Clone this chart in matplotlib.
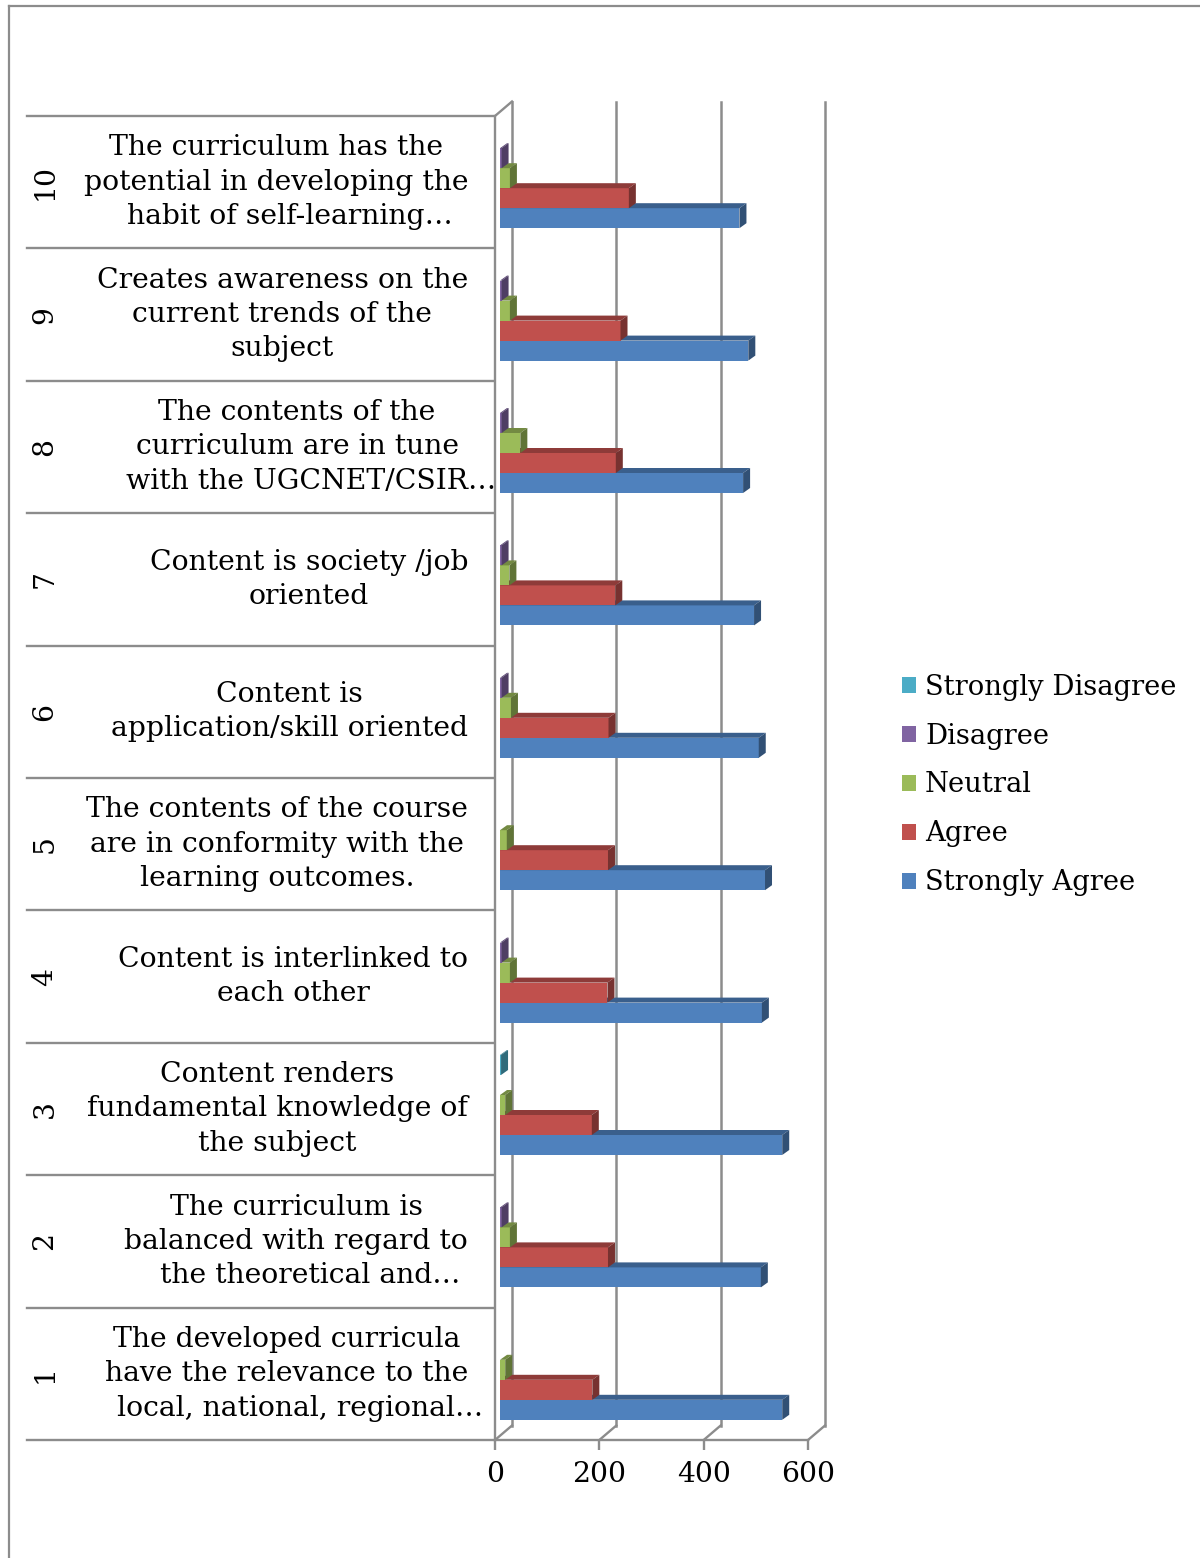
import matplotlib
matplotlib.use('Agg')
import matplotlib.pyplot as plt
from matplotlib.patches import Polygon, Patch
from matplotlib.lines import Line2D
from matplotlib.transforms import blended_transform_factory
import matplotlib.colors as mcolors
import numpy as np

# ---------------- data ----------------
item_numbers = ['1', '2', '3', '4', '5', '6', '7', '8', '9', '10']
item_labels = [
    "The developed curricula\nhave the relevance to the\nlocal, national, regional…",
    "The curriculum is\nbalanced with regard to\nthe theoretical and…",
    "Content renders\nfundamental knowledge of\nthe subject",
    "Content is interlinked to\neach other",
    "The contents of the course\nare in conformity with the\nlearning outcomes.",
    "Content is\napplication/skill oriented",
    "Content is society /job\noriented",
    "The contents of the\ncurriculum are in tune\nwith the UGCNET/CSIR…",
    "Creates awareness on the\ncurrent trends of the\nsubject",
    "The curriculum has the\npotential in developing the\nhabit of self-learning…",
]
series_names = ['Strongly Disagree', 'Disagree', 'Neutral', 'Agree', 'Strongly Agree']
strongly_disagree = [0, 0, 2, 0, 0, 0, 0, 0, 0, 0]
disagree = [0, 3, 0, 3, 0, 3, 3, 3, 3, 3]
neutral = [10, 19, 10, 19, 13, 21, 18, 39, 19, 19]
agree = [177, 207, 176, 206, 207, 208, 221, 222, 231, 247]
strongly_agree = [541, 500, 541, 502, 508, 496, 487, 466, 476, 459]
x_ticks = [0, 200, 400, 600]
series_colors = ['#4BACC6', '#8064A2', '#9BBB59', '#C0504D', '#4F81BD']

# ---------------- style ----------------
W, H, DPI = 1200, 1558, 100
FS = 20.3
LEG_FS = 19.7
GRAY = '#8C8C8C'
plt.rcParams['font.family'] = ['DejaVu Serif']

fig = plt.figure(figsize=(W / DPI, H / DPI), dpi=DPI)
ax_l, ax_r, ax_t, ax_b = 495, 808, 116, 1440
ax = fig.add_axes([ax_l / W, 1 - ax_b / H, (ax_r - ax_l) / W, (ax_b - ax_t) / H])
ax.set_xlim(0, 600)
ax.set_ylim(-0.5, 9.5)
px_x = (ax_r - ax_l) / 600.0
px_y = (ax_b - ax_t) / 10.0
ux = lambda p: p / px_x
uy = lambda p: p / px_y

for s in ['top', 'right']:
    ax.spines[s].set_visible(False)
for s in ['left', 'bottom']:
    ax.spines[s].set_color(GRAY)
    ax.spines[s].set_linewidth(1.7)
ax.set_yticks([])
ax.set_xticks(x_ticks)
ax.set_xticklabels([str(t) for t in x_ticks])
ax.tick_params(axis='x', length=7, width=1.7, color=GRAY, labelsize=FS, pad=8)
ax.patch.set_alpha(0)

# back wall gridlines and floor
wdx, wdy = ux(17), uy(14.5)
for v in x_ticks:
    ax.plot([v + wdx, v + wdx], [-0.5 + wdy, 9.5 + wdy], color=GRAY, lw=1.8,
            clip_on=False, zorder=1)
    ax.plot([v, v + wdx], [-0.5, -0.5 + wdy], color=GRAY, lw=1.7, clip_on=False, zorder=1)
ax.plot([0, wdx], [9.5, 9.5 + wdy], color=GRAY, lw=1.7, clip_on=False, zorder=1)

# category table lines
trans_fy = blended_transform_factory(fig.transFigure, ax.transData)
for k in range(11):
    ax.plot([27 / W, 493 / W], [k - 0.5, k - 0.5], color=GRAY, lw=1.7,
            transform=trans_fy, clip_on=False, zorder=1)

# bars
def shade(c, f):
    r, g, b = mcolors.to_rgb(c)
    return (r * f, g * f, b * f)

bar_dx, bar_dy = ux(5), uy(4)
bh = uy(20)
ddx, ddy = ux(7), uy(5)
all_values = [strongly_disagree, disagree, neutral, agree, strongly_agree]
y_idx = np.arange(len(item_numbers))
for s_idx, (vals, col) in enumerate(zip(all_values, series_colors)):
    pos = 2 - s_idx
    ys = y_idx + bar_dy + pos * bh
    z = 5 + pos
    ax.barh(ys, vals, left=bar_dx, height=bh, color=col, zorder=z, clip_on=False,
            linewidth=0)
    for y, v in zip(ys, vals):
        if v <= 0:
            continue
        x0, x1 = bar_dx, bar_dx + v
        yb, yt = y - bh / 2, y + bh / 2
        top = Polygon([(x0, yt), (x1, yt), (x1 + ddx, yt + ddy), (x0 + ddx, yt + ddy)],
                      closed=True, facecolor=shade(col, 0.74), edgecolor='none',
                      zorder=z, clip_on=False)
        side = Polygon([(x1, yb), (x1 + ddx, yb + ddy), (x1 + ddx, yt + ddy), (x1, yt)],
                       closed=True, facecolor=shade(col, 0.62), edgecolor='none',
                       zorder=z, clip_on=False)
        ax.add_patch(top)
        ax.add_patch(side)

# category labels
renderer = fig.canvas.get_renderer()
line_sp = uy(34.3)
right_edge = 468
for k, (num, lab) in enumerate(zip(item_numbers, item_labels)):
    ax.text(45 / W, k, num, rotation=90, ha='center', va='center', fontsize=FS,
            transform=trans_fy)
    lines = lab.split('\n')
    widths = []
    for ln in lines:
        t = fig.text(0, 0, ln.rstrip('…'), fontsize=FS)
        widths.append(t.get_window_extent(renderer).width)
        t.remove()
    Wb = max(widths)
    c = right_edge - Wb / 2
    n = len(lines)
    for j, (ln, w) in enumerate(zip(lines, widths)):
        yy = k + (n - 1) / 2 * line_sp - j * line_sp
        ax.text((c - w / 2) / W, yy, ln, ha='left', va='center', fontsize=FS,
                transform=trans_fy)

# legend
handles = [Patch(facecolor=c, edgecolor='none') for c in series_colors]
fig.legend(handles, series_names, loc='center left', bbox_to_anchor=(902 / W, 1 - 785 / H),
           frameon=False, fontsize=LEG_FS, handlelength=0.52, handleheight=0.52,
           handletextpad=0.32, labelspacing=0.8, borderpad=0, borderaxespad=0)

# outer border
fig.add_artist(Line2D([8.5 / W, 8.5 / W], [0, 1 - 5.5 / H], transform=fig.transFigure,
                      color=GRAY, lw=1.6))
fig.add_artist(Line2D([8.5 / W, 1], [1 - 5.5 / H, 1 - 5.5 / H], transform=fig.transFigure,
                      color=GRAY, lw=1.6))

fig.savefig('out.png', dpi=DPI)
